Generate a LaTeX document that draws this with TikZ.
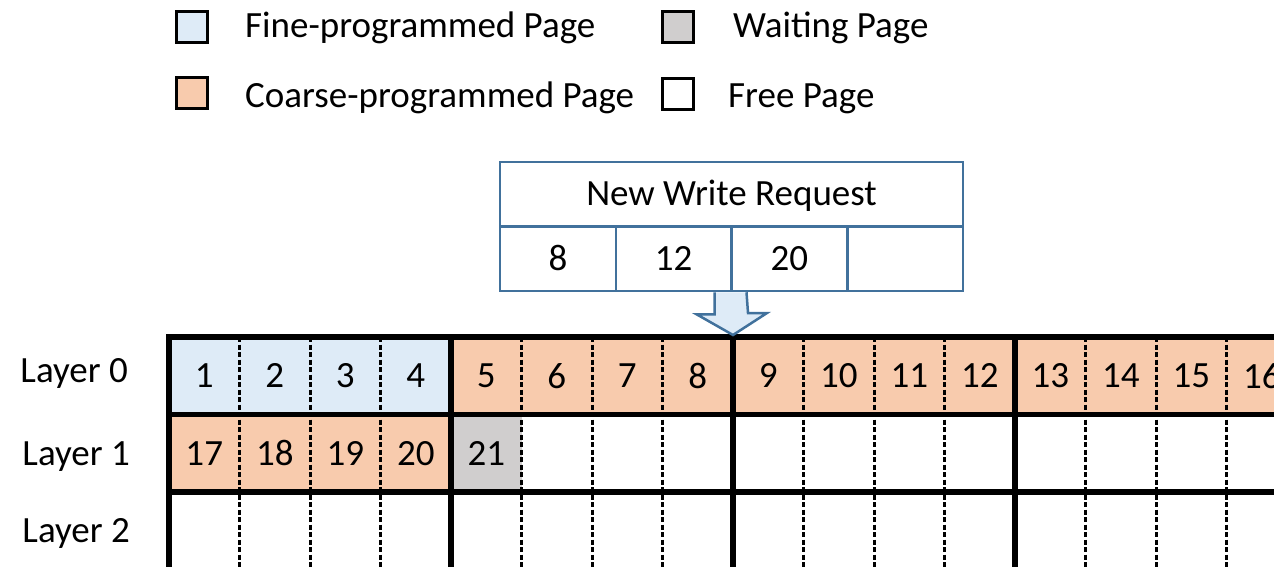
\documentclass[tikz,border=0pt]{standalone}
\usepackage{fontspec}
\setmainfont{Carlito}
\usetikzlibrary{calc}
\definecolor{fineblue}{HTML}{DEEBF7}
\definecolor{coarse}{HTML}{F8CBAD}
\definecolor{waiting}{HTML}{D0CECE}
\definecolor{boxblue}{HTML}{41719C}
\begin{document}
\begin{tikzpicture}[x=1pt,y=-1pt,font=\fontsize{37}{44}\selectfont,
	thickline/.style={line width=5.5pt},
	dashline/.style={line width=3pt,dash pattern=on 5pt off 2.5pt},
	legendbox/.style={draw,line width=3pt,minimum size=31pt,inner sep=0pt},
	reqcell/.style={draw=boxblue,line width=2.5pt,minimum height=64.5pt,text height=23pt,text depth=0pt,inner sep=0pt,outer sep=0pt},
	bigarrow/.style={draw=boxblue,fill=fineblue,line width=2.5pt,line join=miter}]
	\useasboundingbox (0,0) rectangle (1274,567);

	% legend
	\node[legendbox,fill=fineblue] (lfine) at (191.5,27) {};
	\node[legendbox,fill=coarse] (lcoarse) at (191.5,93) {};
	\node[legendbox,fill=waiting] (lwait) at (678,27) {};
	\node[legendbox,fill=white] (lfree) at (678,94) {};
	\node[anchor=base west,inner sep=0pt] (tfine) at (245,38) {Fine-programmed Page};
	\node[anchor=base west,inner sep=0pt] (tcoarse) at (245,108) {Coarse-programmed Page};
	\node[anchor=base west,inner sep=0pt] (twait) at (733,38) {Waiting Page};
	\node[anchor=base west,inner sep=0pt] (tfree) at (728,108) {Free Page};

	% pages
	\foreach \i in {0,...,3} {
		\fill[fineblue] ({169+70.5*\i},337) rectangle ++(70.5,77.5);
		\fill[coarse] ({169+70.5*\i},414.5) rectangle ++(70.5,77.5);
	}
	\foreach \i in {4,...,15}
		\fill[coarse] ({169+70.5*\i},337) rectangle ++(70.5,77.5);
	\fill[waiting] (451,414.5) rectangle ++(70.5,77.5);

	\foreach \i in {1,2,3,5,6,7,9,10,11,13,14,15}
		\draw[dashline] ({169+70.5*\i},337) -- ({169+70.5*\i},567);
	\foreach \i in {0,4,8,12}
		\draw[thickline] ({169+70.5*\i},334.25) -- ({169+70.5*\i},567);
	\foreach \y in {337,414.5,492}
		\draw[thickline] (166.25,\y) -- (1274,\y);

	\foreach \i in {1,...,16}
		\node (p\i) at ({169+70.5*(\i-0.5)},375.75) {\i};
	\foreach \i in {17,...,21}
		\node (p\i) at ({169+70.5*(\i-16.5)},453.25) {\i};

	\node[anchor=base east,inner sep=0pt] (layer0) at (128,382) {Layer 0};
	\node[anchor=base east,inner sep=0pt] (layer1) at (130,465) {Layer 1};
	\node[anchor=base east,inner sep=0pt] (layer2) at (130,542) {Layer 2};

	% write request
	\node[reqcell,minimum width=463pt] (req) at (731.5,194.25) {New Write Request};
	\node[reqcell,minimum width=115.75pt,anchor=north west] (r1) at (req.south west) {8};
	\node[reqcell,minimum width=115.75pt,anchor=west] (r2) at (r1.east) {12};
	\node[reqcell,minimum width=115.75pt,anchor=west] (r3) at (r2.east) {20};
	\node[reqcell,minimum width=115.75pt,anchor=west] (r4) at (r3.east) {};

	\coordinate (tip) at (733,335);
	\path[bigarrow] ([xshift=-17pt,yshift=-1.25pt]r2.south east) -- ++(0,22) -- ++(-18,0) -- (tip)
		-- ++(34,-22) -- ++(-19,0) -- ([xshift=15pt,yshift=-1.25pt]r2.south east);
\end{tikzpicture}
\end{document}
